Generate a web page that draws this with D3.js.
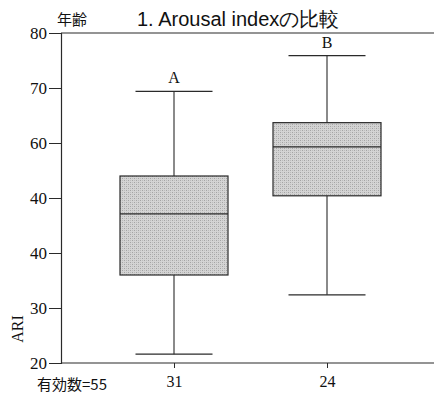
<!DOCTYPE html>
<html><head><meta charset="utf-8">
<script src="https://cdn.jsdelivr.net/npm/d3@7"></script>
<style>body{margin:0;background:#fff}</style>
</head><body>
<script>
const groups = ["A", "B"];
const counts = ["31", "24"];
const whiskerLow = [21.6, 32.4];
const q1 = [36.0, 50.4];
const median = [47.1, 59.3];
const q3 = [54.0, 63.7];
const whiskerHigh = [69.4, 75.9];
const tickValues = [20, 30, 40, 50, 60, 70, 80];
const tickLabels = ["20", "30", "40", "40", "60", "70", "80"];

(function () {
const W = 434, H = 397;
const svg = d3.select("body").append("svg").attr("width", W).attr("height", H);
const defs = svg.append("defs");
const pat = defs.append("pattern").attr("id", "stip").attr("width", 4).attr("height", 4)
  .attr("patternUnits", "userSpaceOnUse");
pat.append("rect").attr("width", 4).attr("height", 4).attr("fill", "#d4d4d4");
pat.append("rect").attr("width", 1).attr("height", 1).attr("fill", "#a4a4a4");
pat.append("rect").attr("x", 2).attr("y", 2).attr("width", 1).attr("height", 1).attr("fill", "#a4a4a4");
pat.append("rect").attr("x", 2).attr("y", 0).attr("width", 1).attr("height", 1).attr("fill", "#bcbcbc");
pat.append("rect").attr("x", 0).attr("y", 2).attr("width", 1).attr("height", 1).attr("fill", "#bcbcbc");

const mLeft = 61, mRight = 434, mTop = 33, mBottom = 363;
const y = d3.scaleLinear().domain([20, 80]).range([mBottom, mTop]);
const x = d3.scalePoint().domain(groups).range([174, 327]);
const boxW = 108, capW = 77;
const ink = "#2a2a2a";

// top frame line
svg.append("line").attr("x1", mLeft).attr("x2", mRight).attr("y1", mTop).attr("y2", mTop)
  .attr("stroke", ink).attr("stroke-width", 1.2);

// y axis
const yAxis = d3.axisLeft(y).tickValues(tickValues).tickSize(12).tickPadding(2)
  .tickFormat((d, i) => tickLabels[i]);
const gy = svg.append("g").attr("transform", `translate(${mLeft},0)`).call(yAxis);
gy.select(".domain").attr("stroke", ink).attr("stroke-width", 1.2);
gy.selectAll(".tick line").attr("stroke", ink).attr("stroke-width", 1);
gy.selectAll(".tick text").attr("font-family", "Liberation Serif").attr("font-size", 17).attr("fill", "#111");

// x axis
const xAxis = d3.axisBottom(x).tickSize(5).tickPadding(8).tickFormat((d, i) => counts[i]);
const gx = svg.append("g").attr("transform", `translate(0,${mBottom})`).call(xAxis);
gx.select(".domain").remove();
gx.append("line").attr("x1", mLeft).attr("x2", mRight).attr("stroke", ink).attr("stroke-width", 1.2);
gx.selectAll(".tick line").attr("stroke", ink);
gx.selectAll(".tick text").attr("font-family", "Liberation Serif").attr("font-size", 16).attr("fill", "#111");

// boxes
const g = svg.selectAll(".box").data(groups).enter().append("g");
g.append("line").attr("x1", d => x(d)).attr("x2", d => x(d))
  .attr("y1", (d, i) => y(whiskerHigh[i])).attr("y2", (d, i) => y(whiskerLow[i]))
  .attr("stroke", ink).attr("stroke-width", 1.1);
g.append("line").attr("x1", d => x(d) - capW / 2).attr("x2", d => x(d) + capW / 2)
  .attr("y1", (d, i) => y(whiskerHigh[i])).attr("y2", (d, i) => y(whiskerHigh[i]))
  .attr("stroke", ink).attr("stroke-width", 1.2);
g.append("line").attr("x1", d => x(d) - capW / 2).attr("x2", d => x(d) + capW / 2)
  .attr("y1", (d, i) => y(whiskerLow[i])).attr("y2", (d, i) => y(whiskerLow[i]))
  .attr("stroke", ink).attr("stroke-width", 1.2);
g.append("rect").attr("x", d => x(d) - boxW / 2).attr("width", boxW)
  .attr("y", (d, i) => y(q3[i])).attr("height", (d, i) => y(q1[i]) - y(q3[i]))
  .attr("fill", "url(#stip)").attr("stroke", ink).attr("stroke-width", 1.2);
g.append("line").attr("x1", d => x(d) - boxW / 2).attr("x2", d => x(d) + boxW / 2)
  .attr("y1", (d, i) => y(median[i])).attr("y2", (d, i) => y(median[i]))
  .attr("stroke", ink).attr("stroke-width", 1.3);
g.append("text").attr("x", d => x(d)).attr("y", (d, i) => y(whiskerHigh[i]) - 8)
  .attr("text-anchor", "middle").attr("font-family", "Liberation Serif").attr("font-size", 16)
  .attr("fill", "#111").text(d => d);

// titles / labels
svg.append("text").attr("x", 137).attr("y", 26).attr("font-family", "Liberation Sans")
  .attr("font-size", 20).attr("fill", "#111").text("1. Arousal indexの比較");
svg.append("text").attr("x", 57).attr("y", 25).attr("font-family", "Noto Sans CJK JP")
  .attr("font-size", 15).attr("fill", "#111").text("年齢");
svg.append("text").attr("transform", "translate(23,329) rotate(-90)").attr("text-anchor", "middle")
  .attr("font-family", "Liberation Serif").attr("font-size", 16).attr("fill", "#111").text("ARI");
svg.append("text").attr("x", 37).attr("y", 390).attr("font-family", "Noto Sans CJK JP")
  .attr("font-size", 15).attr("fill", "#111").text("有効数=55");
})();
</script>
</body></html>
